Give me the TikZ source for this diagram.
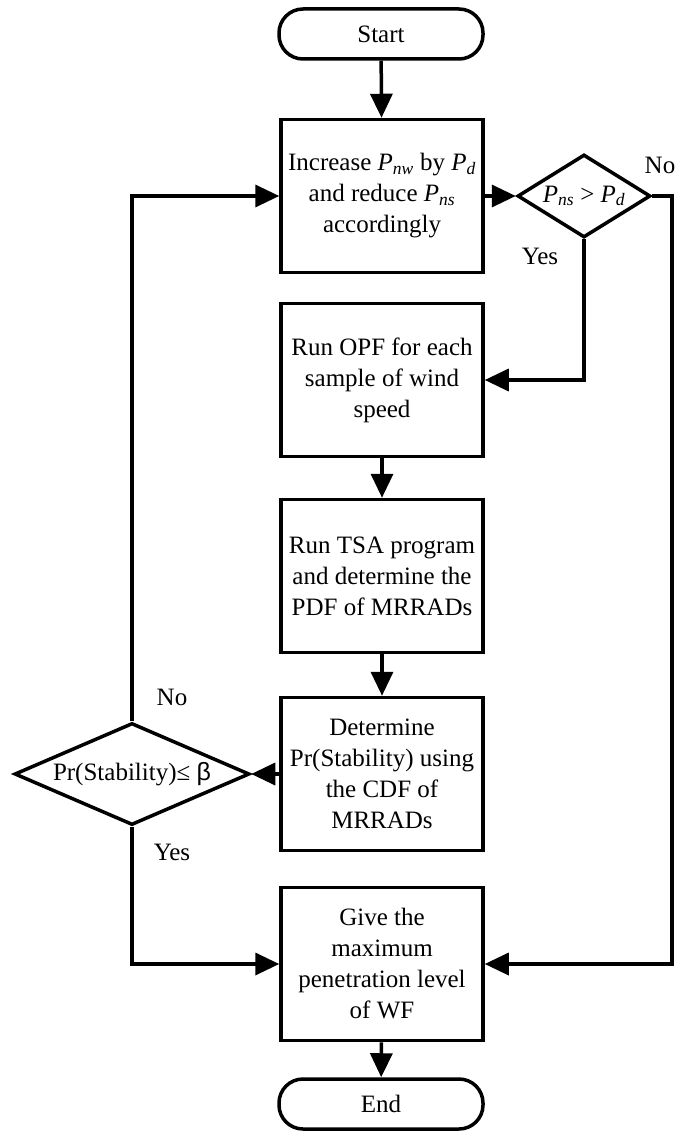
\documentclass[tikz,border=0pt]{standalone}
\usepackage{fontspec}
\setmainfont{Liberation Serif}
\newfontfamily\betafont{Liberation Sans}
\usetikzlibrary{arrows.meta,shapes.geometric}
\newcommand{\Pvar}[1]{\textit{P}\textsubscript{\textit{#1}}}
\begin{document}
\begin{tikzpicture}[x=1pt,y=-1pt,line width=3.5pt,>={Triangle[length=24pt,width=22pt]},
  font=\fontsize{25}{31}\selectfont,
  stepbox/.style={draw,rectangle,minimum width=202pt,minimum height=153pt,inner sep=0pt,align=center},
  termbox/.style={draw,rectangle,rounded corners=24pt,minimum width=204pt,minimum height=50pt,inner sep=0pt},
  testbox/.style={draw,diamond,inner sep=0pt}]
\useasboundingbox (0,0) rectangle (676,1131);
\node[termbox] (start) at (381,34) {Start};
\node[stepbox] (inc) at (382,196) {Increase \Pvar{nw} by \Pvar{d}\\and reduce \Pvar{ns}\\accordingly};
\node[testbox,aspect=1.6,minimum width=133pt,minimum height=83pt] (dia1) at (584,196) {\Pvar{ns} > \Pvar{d}};
\node[stepbox] (opf) at (382,380) {Run OPF for each\\sample of wind\\speed};
\node[stepbox] (tsa) at (382,576) {Run TSA program\\and determine the\\PDF of MRRADs};
\node[stepbox] (det) at (382,774) {Determine\\Pr(Stability) using\\the CDF of\\MRRADs};
\node[testbox,aspect=2.3,minimum width=235pt,minimum height=102pt] (dia2) at (132,774) {Pr(Stability)≤ {\betafont β}};
\node[stepbox] (give) at (382,964) {Give the\\maximum\\penetration level\\of WF};
\node[termbox] (end) at (381,1104) {End};
\coordinate (rgt) at (672,196);
% labels
\node (no1) at (660,165) {No};
\node (yes1) at (540,256) {Yes};
\node (no2) at (172,697) {No};
\node (yes2) at (172,852) {Yes};
% connectors
\draw[->] (start) -- (inc);
\draw[->] (inc.east) -- (dia1.west);
\draw[->] (dia1.east) -- (rgt) |- (give.east);
\draw[->] (dia1.south) |- (opf.east);
\draw[->] (opf) -- (tsa);
\draw[->] (tsa) -- (det);
\draw[->] (det.west) -- (dia2.east);
\draw[->] (dia2.north) |- (inc.west);
\draw[->] (dia2.south) |- (give.west);
\draw[->] (give) -- (end);
\end{tikzpicture}
\end{document}
